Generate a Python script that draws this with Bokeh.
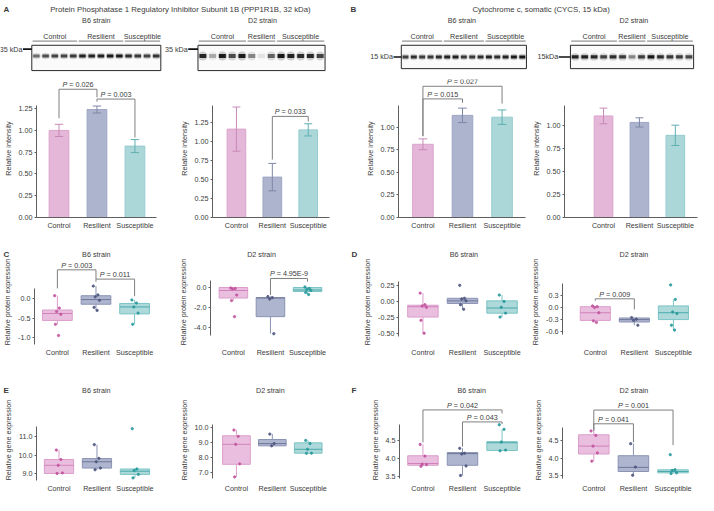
from bokeh.plotting import figure
from bokeh.layouts import column, row
from bokeh.models import Range1d, FixedTicker, NumeralTickFormatter, CustomJSTickFormatter
from bokeh.core.properties import value
from bokeh.embed import file_html
from bokeh.resources import INLINE

FONT = "Liberation Sans"
FS = 7.2
TXT = "#3a3a3a"
AXC = "#5e5e5e"
BRK = "#7f7f7f"

GROUPS = ["Control", "Resilient", "Susceptible"]

# ---------------- data ----------------
# Western blot band intensities per lane (0 = empty, 1 = darkest)
blot_a_b6_control = [0.55, 0.7, 0.75, 0.75, 0.8]
blot_a_b6_resilient = [0.9, 0.9, 0.92, 0.95, 0.95]
blot_a_b6_susceptible = [0.85, 0.8, 0.75, 0.82]
blot_a_d2_control = [0.9, 0.3, 0.95, 0.7, 0.95]
blot_a_d2_resilient = [0.45, 0.08, 0.6]
blot_a_d2_susceptible = [0.97, 0.9, 0.85, 0.88, 0.75]
blot_b_b6_control = [0.75, 0.85, 0.78, 0.8, 0.85]
blot_b_b6_resilient = [0.9, 0.92, 0.8, 0.8, 0.85]
blot_b_b6_susceptible = [0.9, 0.85, 0.9, 0.95, 0.97]
blot_b_d2_control = [0.9, 0.92, 0.88, 0.75, 0.85]
blot_b_d2_resilient = [0.8, 0.45, 0.78]
blot_b_d2_susceptible = [0.97, 0.85, 0.8, 0.78, 0.72]

# Bar charts (relative intensity): mean and error
a_b6_mean = [1.00, 1.24, 0.82]
a_b6_err = [0.07, 0.04, 0.075]
a_d2_mean = [1.16, 0.53, 1.15]
a_d2_err = [0.29, 0.18, 0.08]
b_b6_mean = [0.81, 1.13, 1.11]
b_b6_err = [0.06, 0.08, 0.08]
b_d2_mean = [1.10, 1.03, 0.89]
b_d2_err = [0.085, 0.05, 0.11]

# Box plots: samples per group, and stats (q1, median, q3, whisker low, whisker high)
c_b6_control = [0.08, -0.24, -0.33, -0.40, -0.66, -0.95]
c_b6_resilient = [0.33, 0.10, 0.05, -0.04, -0.22, -0.30]
c_b6_susceptible = [-0.03, -0.11, -0.21, -0.37, -0.66]
c_b6_stats = [(-0.56, -0.38, -0.29, -0.66, 0.08), (-0.14, -0.02, 0.08, -0.30, 0.33), (-0.39, -0.21, -0.12, -0.66, -0.03)]

c_d2_control = [-0.05, -0.10, -0.15, -0.75, -1.3, -2.9]
c_d2_resilient = [-0.9, -1.0, -1.15, -4.6]
c_d2_susceptible = [0.05, -0.1, -0.2, -0.3, -0.5, -0.7]
c_d2_stats = [(-1.05, -0.3, 0.0, -1.3, -0.05), (-2.9, -1.05, -1.0, -4.6, -0.9), (-0.4, -0.25, 0.0, -0.7, 0.05)]

d_b6_control = [0.13, -0.05, -0.07, -0.09, -0.29, -0.49]
d_b6_resilient = [0.25, 0.05, 0.04, 0.01, -0.05, -0.12]
d_b6_susceptible = [0.10, 0.0, -0.09, -0.18, -0.24]
d_b6_stats = [(-0.24, -0.08, -0.057, -0.49, 0.13), (-0.03, 0.01, 0.05, -0.12, 0.05), (-0.18, -0.10, 0.01, -0.24, 0.10)]

d_d2_control = [0.04, 0.02, 0.0, -0.13, -0.33, -0.37]
d_d2_resilient = [-0.25, -0.29, -0.32, -0.44]
d_d2_susceptible = [0.56, 0.2, -0.11, -0.15, -0.44, -0.56]
d_d2_stats = [(-0.32, -0.13, 0.02, -0.37, 0.04), (-0.36, -0.30, -0.26, -0.44, -0.25), (-0.30, -0.13, 0.04, -0.56, 0.2)]

e_b6_control = [10.28, 9.77, 9.46, 9.05, 9.02]
e_b6_resilient = [10.57, 9.83, 9.65, 9.31, 9.22]
e_b6_susceptible = [11.43, 9.26, 9.18, 8.97, 8.78]
e_b6_stats = [(9.02, 9.46, 9.77, 9.02, 10.28), (9.31, 9.65, 9.82, 9.22, 10.57), (8.97, 9.14, 9.26, 8.78, 9.26)]

e_d2_control = [9.85, 9.43, 8.9, 7.6, 6.73]
e_d2_resilient = [9.58, 8.95, 8.8]
e_d2_susceptible = [9.16, 8.95, 8.57, 8.31, 8.30]
e_d2_stats = [(7.57, 8.90, 9.47, 6.73, 9.85), (8.8, 8.95, 9.22, 8.8, 9.58), (8.31, 8.57, 9.0, 8.30, 9.16)]

f_b6_control = [4.40, 4.07, 3.84, 3.83, 3.78]
f_b6_resilient = [4.29, 4.15, 4.13, 3.79, 3.52]
f_b6_susceptible = [4.96, 4.83, 4.47, 4.24, 4.22]
f_b6_stats = [(3.81, 3.86, 4.08, 3.78, 4.40), (3.81, 4.14, 4.17, 3.52, 4.29), (4.23, 4.45, 4.48, 4.22, 4.83)]

f_d2_control = [4.79, 4.66, 4.35, 4.15, 3.91]
f_d2_resilient = [4.42, 3.74, 3.50]
f_d2_susceptible = [4.10, 3.66, 3.64, 3.57, 3.55]
f_d2_stats = [(4.12, 4.35, 4.68, 3.91, 4.79), (3.61, 3.73, 4.07, 3.50, 4.42), (3.57, 3.61, 3.66, 3.55, 3.66)]

# significance brackets: (group a, group b, P text)
a_b6_p = [(0, 1, "0.026"), (1, 2, "0.003")]
a_d2_p = [(1, 2, "0.033")]
b_b6_p = [(0, 2, "0.027"), (0, 1, "0.015")]
c_b6_p = [(0, 1, "0.003"), (1, 2, "0.011")]
c_d2_p = [(1, 2, "4.95E-9")]
d_d2_p = [(0, 1, "0.009")]
f_b6_p = [(0, 2, "0.042"), (1, 2, "0.043")]
f_d2_p = [(0, 2, "0.001"), (0, 1, "0.041")]

# ---------------- styles ----------------
BAR_FILL = ["#e4b6d7", "#adb4cd", "#acd7d8"]
BAR_LINE = ["#dba5cd", "#9ea6c3", "#96cccf"]
ERR_C = ["#c98ab7", "#7e87a7", "#5fb0b2"]
BOX_FILL = ["#e9badc", "#aab1cc", "#a9d7d8"]
BOX_LINE = ["#dc9dcb", "#8b93b3", "#7cc4c5"]
MED_C = ["#d182bd", "#6f7799", "#4aaaac"]
PT_C = ["#c2559f", "#4f5880", "#2a9a9c"]
JIT = [-0.07, 0.05, -0.02, 0.09, -0.05, 0.03]
BW = 0.77

W_TOT, H_TOT = 698, 495
SX = W_TOT / 714.0
SY = H_TOT / 511.0
COLS = [0, 180, 355, 540, 714]
ROWS = [0, 75, 245, 267, 390, 411, 511]
SP = 40.5


def sx(v):
    return int(round(v * SX))


def sy(v):
    return int(round(v * SY))


CW = {'P': 667, ' ': 278, '=': 584, '.': 278, 'E': 667, '-': 333}


def tw(s, fs=FS):
    return sum(CW.get(c, 556) for c in s) / 1000.0 * fs


def chart(col, rw, frame, c0, v0, y0px, ppu, bounds, ticks, fmt, ylabel, xline):
    fl, fr, ft, fb = frame
    cl, cr = sx(COLS[col]), sx(COLS[col + 1])
    rt, rb = sy(ROWS[rw]), sy(ROWS[rw + 1])
    p = figure(width=cr - cl, height=rb - rt,
               x_range=Range1d((fl - c0) / SP, (fr - c0) / SP),
               y_range=Range1d(v0 - (fb - y0px) / ppu, v0 + (y0px - ft) / ppu),
               min_border_left=sx(fl) - cl, min_border_right=cr - sx(fr),
               min_border_top=sy(ft) - rt, min_border_bottom=rb - sy(fb),
               output_backend="svg", toolbar_location=None)
    p.outline_line_color = None
    p.xgrid.visible = False
    p.ygrid.visible = False
    p.background_fill_color = "white"
    p.border_fill_color = "white"
    ya = p.yaxis[0]
    ya.ticker = FixedTicker(ticks=ticks, minor_ticks=[])
    ya.formatter = NumeralTickFormatter(format=fmt)
    ya.bounds = bounds
    ya.axis_label = ylabel
    ya.axis_label_text_font = FONT
    ya.axis_label_text_font_size = f"{FS}px"
    ya.axis_label_text_font_style = "normal"
    ya.axis_label_text_color = TXT
    ya.axis_label_standoff = 3
    ya.major_label_text_font = FONT
    ya.major_label_text_font_size = f"{FS}px"
    ya.major_label_text_color = TXT
    ya.major_label_standoff = 2
    ya.major_tick_out = 2
    ya.major_tick_in = 0
    ya.axis_line_color = AXC
    ya.major_tick_line_color = AXC
    ya.minor_tick_line_color = None
    xa = p.xaxis[0]
    xa.ticker = FixedTicker(ticks=[0, 1, 2], minor_ticks=[])
    xa.formatter = CustomJSTickFormatter(args=dict(labels=GROUPS),
                                         code="return labels[Math.round(tick)] || '';")
    xa.major_label_text_font = FONT
    xa.major_label_text_font_size = f"{FS}px"
    xa.major_label_text_color = TXT
    xa.major_label_standoff = 3
    xa.major_tick_out = 0
    xa.major_tick_in = 0
    xa.major_tick_line_color = None
    xa.minor_tick_line_color = None
    xa.axis_line_color = AXC if xline else None
    return p


def draw_bars(p, means, errs):
    xs = [0, 1, 2]
    p.vbar(x=xs, top=means, bottom=0, width=0.52, fill_color=BAR_FILL, line_color=BAR_LINE, line_width=1)
    lo = [m - e for m, e in zip(means, errs)]
    hi = [m + e for m, e in zip(means, errs)]
    cap = 0.11
    p.segment(x0=xs, y0=lo, x1=xs, y1=hi, line_color=ERR_C, line_width=1)
    p.segment(x0=[x - cap for x in xs], y0=hi, x1=[x + cap for x in xs], y1=hi, line_color=ERR_C, line_width=1)
    p.segment(x0=[x - cap for x in xs], y0=lo, x1=[x + cap for x in xs], y1=lo, line_color=ERR_C, line_width=1)


def draw_boxes(p, groups, stats):
    for i, (pts, st) in enumerate(zip(groups, stats)):
        q1, med, q3, lo, hi = st
        p.segment(x0=[i, i], y0=[q3, q1], x1=[i, i], y1=[hi, lo], line_color=BOX_LINE[i], line_width=1)
        p.quad(left=i - BW / 2, right=i + BW / 2, bottom=q1, top=q3, fill_color=BOX_FILL[i],
               fill_alpha=0.95, line_color=BOX_LINE[i], line_width=1)
        p.segment(x0=[i - BW / 2], y0=[med], x1=[i + BW / 2], y1=[med], line_color=MED_C[i], line_width=1)
        xs = [i + JIT[k % len(JIT)] for k in range(len(pts))]
        p.scatter(x=xs, y=pts, size=2.3, fill_color=PT_C[i], line_color=PT_C[i], alpha=0.9)


def draw_brackets(p, pvals, geom):
    for (g1, g2, ptxt), (yb, l1, l2) in zip(pvals, geom):
        p.line(x=[g1, g1, g2, g2], y=[l1, yb, yb, l2], line_color=BRK, line_width=1)
        xm = (g1 + g2) / 2.0
        full = "P = " + ptxt
        W = tw(full)
        p.text(x=[xm], y=[yb], text=["P"], text_font=value(FONT), text_font_style="italic",
               text_font_size=f"{FS}px", text_align="left", text_baseline="bottom",
               x_offset=-W / 2, y_offset=0, text_color=TXT)
        p.text(x=[xm], y=[yb], text=["= " + ptxt], text_font=value(FONT),
               text_font_size=f"{FS}px", text_align="left", text_baseline="bottom",
               x_offset=-W / 2 + tw("P "), y_offset=0, text_color=TXT)


def strip(r0, r1):
    f = figure(width=W_TOT, height=sy(r1) - sy(r0), x_range=Range1d(0, 714), y_range=Range1d(r1, r0),
               min_border=0, x_axis_type=None, y_axis_type=None, output_backend="svg",
               toolbar_location=None)
    f.outline_line_color = None
    f.grid.visible = False
    return f


def stext(f, xs, ys, texts, align="center", bold=False, size=FS):
    f.text(x=xs, y=ys, text=texts, text_font=value(FONT), text_font_size=f"{size}px",
           text_font_style="bold" if bold else "normal", text_align=align,
           text_baseline="middle", text_color=TXT)


# ---------------- header with blots ----------------
hdr = strip(ROWS[0], ROWS[1])
stext(hdr, [3, 358], [9, 9], ["A", "B"], align="left", bold=True, size=8)
stext(hdr, [184, 553], [9, 9], ["Protein Phosphatase 1 Regulatory Inhibitor Subunit 1B (PPP1R1B, 32 kDa)",
                               "Cytochrome c, somatic (CYCS, 15 kDa)"], size=7.8)
stext(hdr, [98, 268, 472, 648], [20.5] * 4, ["B6 strain", "D2 strain", "B6 strain", "D2 strain"])

BLOTS = [
    dict(lanes=[blot_a_b6_control, blot_a_b6_resilient, blot_a_b6_susceptible], box=(32, 164, 46, 72),
         band_y=57, band_h=3.0, kda="35 kDa", kda_x=23, kda_y=50),
    dict(lanes=[blot_a_d2_control, blot_a_d2_resilient, blot_a_d2_susceptible], box=(202, 332, 46, 72),
         band_y=57, band_h=4.3, kda="35 kDa", kda_x=192, kda_y=50),
    dict(lanes=[blot_b_b6_control, blot_b_b6_resilient, blot_b_b6_susceptible], box=(410, 538, 46, 70),
         band_y=58, band_h=3.0, kda="15 kDa", kda_x=402, kda_y=58),
    dict(lanes=[blot_b_d2_control, blot_b_d2_resilient, blot_b_d2_susceptible], box=(583, 709, 46, 70),
         band_y=58, band_h=3.4, kda="15kDa", kda_x=571, kda_y=58),
]

for b in BLOTS:
    x0, x1, y0, y1 = b["box"]
    n = sum(len(g) for g in b["lanes"])
    spc = (x1 - x0) / n
    xs, al = [], []
    k = 0
    gl0, gl1, gc = [], [], []
    for g in b["lanes"]:
        start = k
        for v in g:
            xs.append(x0 + (k + 0.5) * spc)
            al.append(v)
            k += 1
        gl0.append(x0 + start * spc + 0.8)
        gl1.append(x0 + k * spc - 0.8)
        gc.append(x0 + (start + k) / 2.0 * spc)
    hdr.quad(left=x0, right=x1, top=y0, bottom=y1, fill_color="#fafafa", line_color="#2a2a2a", line_width=1)
    hdr.ellipse(x=xs, y=b["band_y"], width=spc * 0.95, height=b["band_h"] * 2.2, fill_color="#000000",
                fill_alpha=[a * 0.2 for a in al], line_color=None)
    hdr.rect(x=xs, y=b["band_y"], width=spc * 0.7, height=b["band_h"], fill_color="#111111",
             fill_alpha=al, line_color=None)
    hdr.segment(x0=gl0, y0=41.7, x1=gl1, y1=41.7, line_color="#555555", line_width=0.8)
    stext(hdr, gc, [36.5] * 3, GROUPS)
    stext(hdr, [b["kda_x"] - 0.5], [b["kda_y"]], [b["kda"]], align="right")
    hdr.segment(x0=[b["kda_x"]], y0=[b["kda_y"]], x1=[x0], y1=[b["kda_y"]], line_color="#111111", line_width=1.6)

# ---------------- bar charts ----------------
A1 = chart(0, 1, (32, 160, 82, 224), 56, 0, 224, 89.6, (0, 1.29), [0, 0.25, 0.5, 0.75, 1.0, 1.25], "0.00",
           "Relative intensity", True)
draw_bars(A1, a_b6_mean, a_b6_err)
draw_brackets(A1, a_b6_p, [(1.473, 1.14, 1.38), (1.36, 1.33, 0.92)])

A2 = chart(1, 1, (205, 337, 82, 224), 232, 0, 224, 78.4, (0, 1.47), [0, 0.25, 0.5, 0.75, 1.0, 1.25], "0.00",
           "Relative intensity", True)
draw_bars(A2, a_d2_mean, a_d2_err)
draw_brackets(A2, a_d2_p, [(1.327, 0.76, 1.26)])

B1 = chart(2, 1, (407, 537, 82, 224), 432, 0, 224, 93.0, (0, 1.24), [0, 0.25, 0.5, 0.75, 1.0], "0.00",
           "Relative intensity", True)
draw_bars(B1, b_b6_mean, b_b6_err)
draw_brackets(B1, b_b6_p, [(1.452, 0.90, 1.26), (1.312, 0.90, 1.27)])

B2 = chart(3, 1, (563, 713, 82, 224), 607, 0, 224, 95.0, (0, 1.21), [0, 0.25, 0.5, 0.75, 1.0], "0.00",
           "Relative intensity", True)
draw_bars(B2, b_d2_mean, b_d2_err)

# ---------------- titles for C / D ----------------
s1 = strip(ROWS[2], ROWS[3])
stext(s1, [3, 359], [262, 262], ["C", "D"], align="left", bold=True, size=8)
stext(s1, [98, 267, 474, 648], [262] * 4, ["B6 strain", "D2 strain", "B6 strain", "D2 strain"])

# ---------------- protein box plots ----------------
C1 = chart(0, 3, (32, 160, 267, 355), 56, 0, 307.7, 40.0, (-1.18, 0.26), [-1.0, -0.5, 0.0], "0.0",
           "Relative protein expression", False)
draw_boxes(C1, [c_b6_control, c_b6_resilient, c_b6_susceptible], c_b6_stats)
draw_brackets(C1, c_b6_p, [(0.75, 0.27, 0.51), (0.51, 0.44, 0.07)])

C2 = chart(1, 3, (207, 337, 267, 355), 232, 0, 296, 10.4, (-4.8, 0.67), [-4.0, -2.0, 0.0], "0.0",
           "Relative protein expression", False)
draw_boxes(C2, [c_d2_control, c_d2_resilient, c_d2_susceptible], c_d2_stats)
draw_brackets(C2, c_d2_p, [(0.9, -0.75, 0.58)])

D1 = chart(2, 3, (407, 537, 267, 355), 432, 0, 310.5, 67.0, (-0.545, 0.306), [-0.5, -0.25, 0.0, 0.25], "0.00",
           "Relative protein expression", False)
draw_boxes(D1, [d_b6_control, d_b6_resilient, d_b6_susceptible], d_b6_stats)

D2 = chart(3, 3, (573, 713, 267, 355), 607, 0, 316.7, 41.7, (-0.68, 0.6), [-0.6, -0.3, 0.0, 0.3], "0.0",
           "Relative protein expression", False)
draw_boxes(D2, [d_d2_control, d_d2_resilient, d_d2_susceptible], d_d2_stats)
draw_brackets(D2, d_d2_p, [(0.216, 0.17, -0.05)])

# ---------------- titles for E / F ----------------
s2 = strip(ROWS[4], ROWS[5])
stext(s2, [3, 359], [403, 403], ["E", "F"], align="left", bold=True, size=8)
stext(s2, [98, 276, 482, 648], [403] * 4, ["B6 strain", "D2 strain", "B6 strain", "D2 strain"])

# ---------------- gene box plots ----------------
E1 = chart(0, 5, (32, 160, 412, 497), 56, 9.0, 490, 19.5, (8.64, 11.56), [9.0, 10.0, 11.0], "0.0",
           "Relative gene expression", False)
draw_boxes(E1, [e_b6_control, e_b6_resilient, e_b6_susceptible], e_b6_stats)

E2 = chart(1, 5, (205, 337, 412, 497), 232, 10.0, 441.7, 15.77, (6.61, 10.23), [7.0, 8.0, 9.0, 10.0], "0.0",
           "Relative gene expression", False)
draw_boxes(E2, [e_d2_control, e_d2_resilient, e_d2_susceptible], e_d2_stats)

F1 = chart(2, 5, (408, 537, 412, 497), 432, 4.0, 474, 37.0, (3.44, 4.98), [3.5, 4.0, 4.5], "0.0",
           "Relative gene expression", False)
draw_boxes(F1, [f_b6_control, f_b6_resilient, f_b6_susceptible], f_b6_stats)
draw_brackets(F1, f_b6_p, [(5.38, 4.46, 5.28), (5.04, 4.34, 4.98)])

F2 = chart(3, 5, (575, 713, 412, 497), 607, 4.0, 473.5, 36.0, (3.41, 4.89), [3.5, 4.0, 4.5], "0.0",
           "Relative gene expression", False)
draw_boxes(F2, [f_d2_control, f_d2_resilient, f_d2_susceptible], f_d2_stats)
draw_brackets(F2, f_d2_p, [(5.4, 4.8, 4.38), (5.0, 4.8, 4.46)])

layout = column(
    hdr,
    row(A1, A2, B1, B2),
    s1,
    row(C1, C2, D1, D2),
    s2,
    row(E1, E2, F1, F2),
)

open("out.html", "w").write(file_html(layout, INLINE))
